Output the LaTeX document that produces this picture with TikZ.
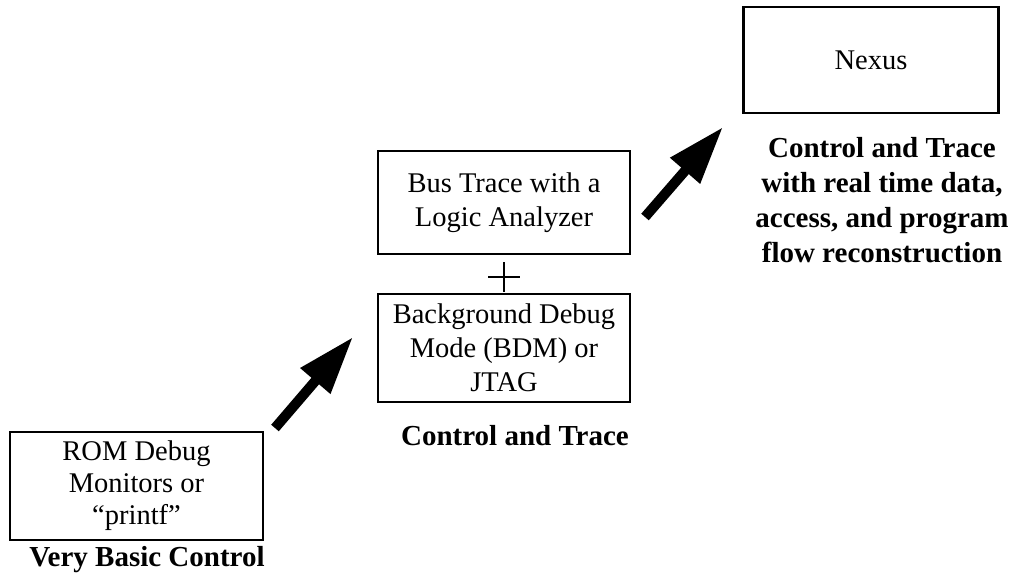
\documentclass[tikz,border=0pt]{standalone}
\usepackage{fontspec}
\setmainfont{Liberation Serif}
\usetikzlibrary{calc,arrows.meta}

\begin{document}
\begin{tikzpicture}[x=1pt,y=-1pt]
  \useasboundingbox (0,0) rectangle (1013,581);

      \tikzset{
        boite/.style={draw, line width=2.5pt, align=center, inner sep=0pt,
          font=\fontsize{28.5}{34}\selectfont},
        niveau/.style={align=center, font=\fontsize{29}{35}\selectfont\bfseries},
        fleche/.style={line width=10pt, -{Triangle[length=58pt,width=37pt]}}
      }

      % BOITES
      \node[boite, minimum width=253pt, minimum height=108pt, font=\fontsize{28.5}{32}\selectfont] (ROM) at (136.5,486) {ROM Debug\\Monitors or\\``printf''};
      \node[boite, minimum width=252pt, minimum height=108pt] (BDM) at (504,348) {Background Debug\\Mode (BDM) or\\JTAG};
      \node[boite, minimum width=252pt, minimum height=103pt] (BUS) at (504,202.5) {Bus Trace with a\\Logic Analyzer};
      \node[boite, minimum width=255pt, minimum height=106pt] (NEX) at (871,60) {Nexus};

      % NIVEAUX
      \node[niveau] (N1) at (147,560) {Very Basic Control};
      \node[niveau] (N2) at (515,436) {Control and Trace};
      \node[niveau] (N3) at (882,200) {Control and Trace\\with real time data,\\access, and program\\flow reconstruction};

      % PLUS
      \coordinate (P) at (504,277);
      \draw[line width=2pt] ($(P)+(-16,0)$) -- ($(P)+(16,0)$);
      \draw[line width=2pt] ($(P)+(0,-15)$) -- ($(P)+(0,15)$);

      % FLECHES
      \coordinate (A1) at (275,428);
      \coordinate (B1) at (353,337);
      \coordinate (A2) at (645,217);
      \coordinate (B2) at (723,127);
      \draw[fleche] (A1) -- (B1);
      \draw[fleche] (A2) -- (B2);

  \end{tikzpicture}
\end{document}
